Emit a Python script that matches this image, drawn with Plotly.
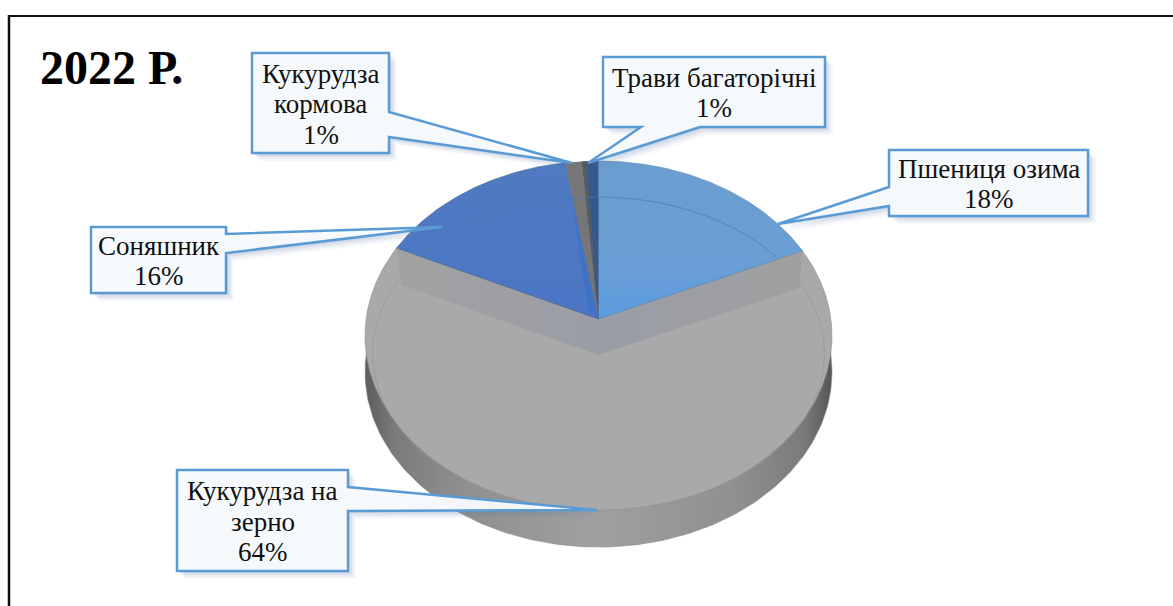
"""
Діаграма структури посівів 2022 р.: об'ємний кружок у перспективі з виносками.
"""

import numpy as np
import plotly.graph_objects as go


# Дані діаграми
CATEGORIES = ["Пшениця озима", "Кукурудза на зерно", "Соняшник", "Кукурудза кормова", "Трави багаторічні"]
VALUES = [18.3, 63.7, 15.5, 1.25, 1.25]
LABEL_LINES = [
    ["Пшениця озима"],
    ["Кукурудза на", "зерно"],
    ["Соняшник"],
    ["Кукурудза", "кормова"],
    ["Трави багаторічні"],
]
TITLE = "2022 Р."

# Оформлення
W, H = 1173, 606
FONT = "Liberation Serif"
COLOR_BORDER = "#5B9BD5"
COLOR_TEXT = "#111111"
LINE_STEP = 30.5

# Геометрія кружка (пікселі сторінки)
CX, CY = 598.5, 319
AX, BY, KP = 232.4, 173.4, 0.0972  # перспектива кола
DEPTH = 36

# Виноски: прямокутник (x0, y0, x1, y1) і хвіст (сторона, a, b, кінчик)
CALLOUTS = [
    dict(box=(889, 150, 1088, 216), side="left", a=187, b=206, tip=(778, 224)),
    dict(box=(177, 470, 348, 571), side="right", a=487, b=511, tip=(597, 510)),
    dict(box=(91, 227, 226, 293), side="right", a=234, b=253, tip=(442, 227)),
    dict(box=(252, 53, 389, 153), side="right", a=112, b=137, tip=(572, 163)),
    dict(box=(603, 57, 825, 127), side="bottom", a=641, b=700, tip=(588, 163)),
]


def rim(deg):
    """Точка краю кружка для кута за годинниковою стрілкою від верху."""
    t = np.radians(np.asarray(deg, dtype=float))
    d = 1 + KP * np.cos(t)
    return CX + AX * np.sin(t) / d, CY - BY * np.cos(t) / d


def sector(a0, a1):
    xs, ys = rim(np.linspace(a0, a1, max(3, int(abs(a1 - a0)) * 2)))
    return [CX, *xs, CX], [CY, *ys, CY]


def inner_arc(a0, a1):
    t = np.radians(np.linspace(a0, a1, 160))
    return CX + 226 * np.sin(t), 353.5 - 156.5 * np.cos(t)


def poly(fig, xs, ys, color=None, gradient=None, line="rgba(0,0,0,0)", width=0.6, hover=None):
    fig.add_trace(go.Scatter(
        x=list(xs), y=list(ys),
        mode="lines",
        fill="toself",
        fillcolor=color,
        fillgradient=gradient,
        line=dict(color=line, width=width),
        showlegend=False,
        name=hover or "",
        hoverinfo="name" if hover else "skip",
    ))


def callout_path(c, dx=0, dy=0):
    x0, y0, x1, y1 = c["box"]
    a, b, tip = c["a"], c["b"], c["tip"]
    if c["side"] == "right":
        pts = [(x0, y0), (x1, y0), (x1, a), tip, (x1, b), (x1, y1), (x0, y1)]
    elif c["side"] == "left":
        pts = [(x0, y0), (x1, y0), (x1, y1), (x0, y1), (x0, b), tip, (x0, a)]
    else:
        pts = [(x0, y0), (x1, y0), (x1, y1), (b, y1), tip, (a, y1), (x0, y1)]
    return "M" + " L".join(f"{x + dx},{y + dy}" for x, y in pts) + " Z"


edges = np.cumsum([0] + VALUES) * 3.6

fig = go.Figure()

# --- Бічна стінка ---
wx, wy = rim(np.linspace(0, 360, 361))
poly(fig, wx, wy + DEPTH, line="#8a8a8a", gradient=dict(
    type="horizontal",
    colorscale=[[0, "#5c5c5c"], [0.06, "#7a7a7a"], [0.2, "#8f8f8f"], [0.5, "#a0a0a0"],
                [0.8, "#8f8f8f"], [0.94, "#7a7a7a"], [1, "#555555"]],
))

# --- Сектор зерна (сірий) ---
sx, sy = sector(edges[1], edges[2])
poly(fig, sx, sy, color="#A9A9A9", line="#8c8c8c", hover=CATEGORIES[1])

# --- Внутрішня V-подібна стінка під синіми секторами ---
(rx, lx), (ry, ly) = rim([edges[1], edges[2]])
poly(fig,
     [CX, rx, rx - 3, CX, lx + 5, lx, CX],
     [CY, ry, ry + DEPTH + 1, CY + DEPTH, ly + DEPTH + 1, ly, CY],
     gradient=dict(type="horizontal", colorscale=[[0, "#a2a2a2"], [0.5, "#9a9da6"], [1, "#a0a0a0"]]))

# --- Верхні сектори ---
sx, sy = sector(edges[0], edges[1])
poly(fig, sx, sy, line="#5f86ad", hover=CATEGORIES[0], gradient=dict(
    type="vertical", colorscale=[[0, "#5A9BE0"], [0.3, "#699FD6"], [1, "#6B9ED0"]]))
sx, sy = sector(edges[2], edges[3])
poly(fig, sx, sy, line="#46648f", hover=CATEGORIES[2], gradient=dict(
    type="vertical", colorscale=[[0, "#4A76C6"], [1, "#507AC0"]]))
sx, sy = sector(edges[3], edges[4])
poly(fig, sx, sy, color="#767676", hover=CATEGORIES[3])
sx, sy = sector(edges[4], edges[5])
poly(fig, sx, sy, color="#34598F", hover=CATEGORIES[4])

# --- Грані між вузькими секторами ---
bx, by = rim(edges[3])
poly(fig, [bx, CX - 10, CX, bx + 5], [by, CY - 9, CY, by + 35], color="#3F72C4")
bx, by = rim(edges[4])
poly(fig, [bx, bx + 5, CX, bx], [by, by, CY, by], color="#565B63")

# --- Тонкі лінії фаски ---
for a0, a1, col in [(-52, 52, "#4a78ad"), (62.3, 297.7, "#959595")]:
    ax_, ay_ = inner_arc(a0, a1)
    fig.add_trace(go.Scatter(
        x=ax_, y=ay_, mode="lines", line=dict(color=col, width=0.7),
        showlegend=False, hoverinfo="skip",
    ))

# --- Виноски з тінню та підписи ---
shapes = []
for c in CALLOUTS:
    for off, alpha in [(8, 0.05), (6, 0.08), (4, 0.11), (2, 0.14)]:
        shapes.append(dict(type="path", path=callout_path(c, off, off), layer="above",
                           fillcolor=f"rgba(91,125,170,{alpha})", line=dict(width=0)))
for c in CALLOUTS:
    shapes.append(dict(type="path", path=callout_path(c), layer="above",
                       fillcolor="rgba(248,250,253,0.96)", line=dict(color=COLOR_BORDER, width=2.5)))

annotations = []
for c, lines, v in zip(CALLOUTS, LABEL_LINES, VALUES):
    x0, y0, x1, y1 = c["box"]
    rows = lines + [f"{v:.0f}%"]
    top = (y0 + y1) / 2 + 1 - LINE_STEP * (len(rows) - 1) / 2
    for i, row in enumerate(rows):
        annotations.append(dict(
            x=(x0 + x1) / 2, y=top + i * LINE_STEP, xref="x", yref="y", showarrow=False,
            text=row,
            font=dict(family=FONT, size=27, color=COLOR_TEXT),
        ))
annotations.append(dict(
    x=38, y=67, xref="x", yref="y", showarrow=False, xanchor="left",
    text=f"<b>{TITLE}</b>", font=dict(family=FONT, size=48, color="#000000"),
))

# Рамка діаграми
shapes.append(dict(type="line", x0=9, x1=W, y0=16, y1=16, line=dict(color="#111111", width=2), layer="above"))
shapes.append(dict(type="line", x0=9, x1=9, y0=15, y1=H, line=dict(color="#111111", width=2.5), layer="above"))

fig.update_layout(
    width=W, height=H,
    margin=dict(l=0, r=0, t=0, b=0),
    paper_bgcolor="white",
    plot_bgcolor="white",
    showlegend=False,
    xaxis=dict(range=[0, W], visible=False, fixedrange=True),
    yaxis=dict(range=[H, 0], visible=False, fixedrange=True),
    shapes=shapes,
    annotations=annotations,
)

fig.write_html("out.html", config=dict(displayModeBar=False), post_script="document.body.style.margin='0';")
